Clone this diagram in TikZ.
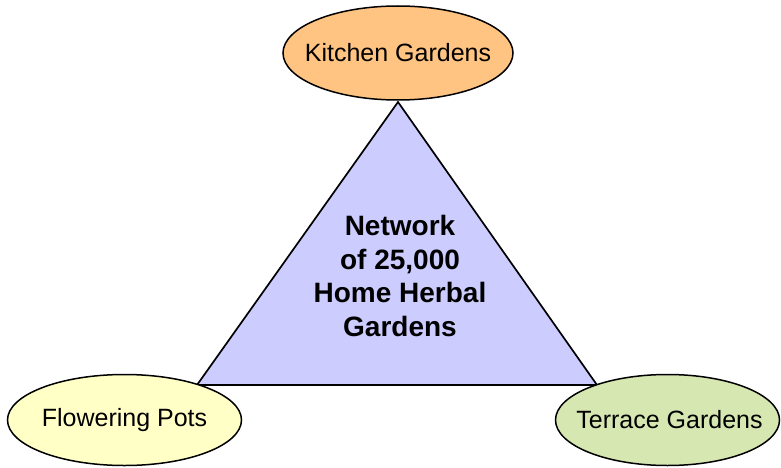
\documentclass[tikz,border=0pt]{standalone}
\usepackage{fontspec}
\setmainfont{Liberation Sans}
\usetikzlibrary{shapes.geometric}
\definecolor{kitchenfill}{HTML}{FFC382}
\definecolor{potfill}{HTML}{FFFFC6}
\definecolor{terracefill}{HTML}{D7E7B2}
\definecolor{trifill}{HTML}{CCCCFF}
\begin{document}
\begin{tikzpicture}[x=1pt,y=-1pt,
  oval/.style={ellipse, draw=black, line width=1.5pt, inner sep=0pt},
  ovaltext/.style={font=\fontsize{25}{30}\selectfont, inner sep=0pt},
  tri/.style={draw=black, fill=trifill, line width=1.7pt, line join=miter}]
\useasboundingbox (0,0) rectangle (781,468);
\coordinate (apex) at (398,102);
\coordinate (bl) at (197,385);
\coordinate (br) at (597,385);
\draw[tri] (apex) -- (bl) -- (br) -- cycle;
\node[align=center, font=\bfseries\fontsize{28}{33.5}\selectfont] (center) at (400,276)
  {Network\\of 25,000\\Home Herbal\\Gardens};
\node[oval, fill=kitchenfill, minimum width=230, minimum height=94] (kitchen) at (398,53) {};
\node[ovaltext] (kitchentext) at (kitchen.center) {Kitchen Gardens};
\node[oval, fill=potfill, minimum width=234, minimum height=91] (pots) at (124.5,420) {};
\node[ovaltext] (potstext) at (pots.center) {Flowering Pots};
\node[oval, fill=terracefill, minimum width=224, minimum height=91] (terrace) at (667.5,420) {};
\node[ovaltext] (terracetext) at ([xshift=2pt]terrace.center) {Terrace Gardens};
\end{tikzpicture}
\end{document}
